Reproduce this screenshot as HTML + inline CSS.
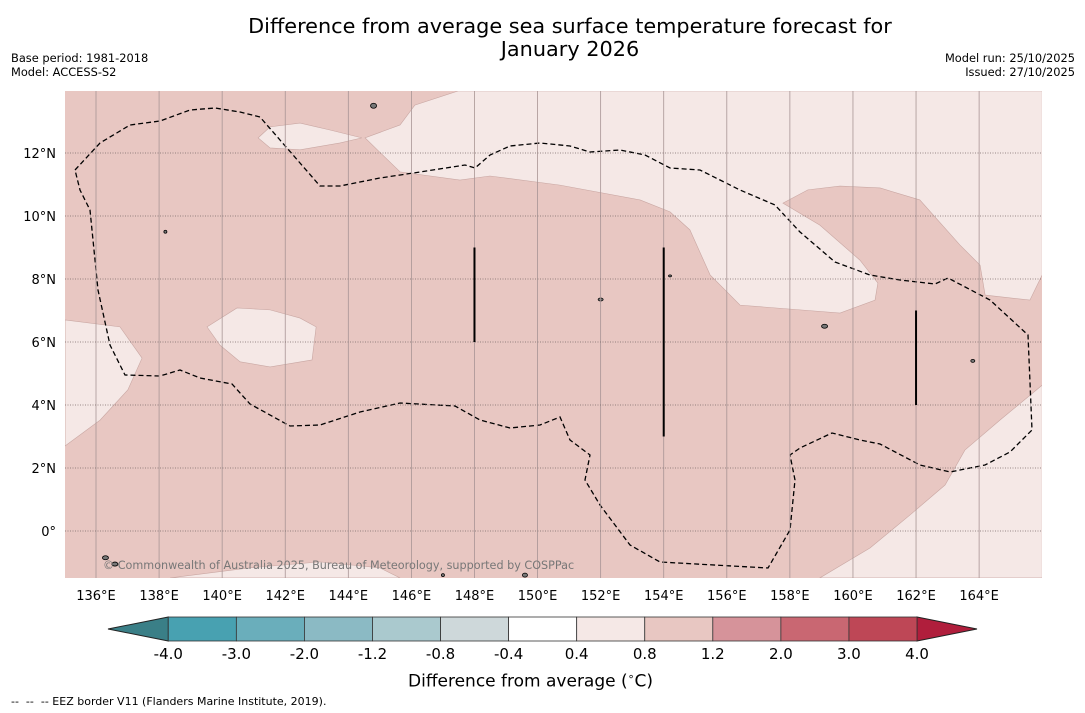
<!DOCTYPE html>
<html><head><meta charset="utf-8"><style>
body{margin:0;background:#fff;font-family:"Liberation Sans","DejaVu Sans",sans-serif;}
#wrap{position:relative;width:1085px;height:713px;overflow:hidden;background:#fff}
.t{position:absolute;white-space:nowrap;color:#000}
</style></head><body>
<div id="wrap">
<div class="t" style="left:0;width:1140px;top:15px;text-align:center;font-size:20.8px;line-height:23px;font-family:'DejaVu Sans',sans-serif">Difference from average sea surface temperature forecast for<br>January 2026</div>
<div class="t" style="left:11px;top:51px;font-size:11.4px;line-height:14px;font-family:'DejaVu Sans',sans-serif">Base period: 1981-2018<br>Model: ACCESS-S2</div>
<div class="t" style="right:10px;top:51px;font-size:11.4px;line-height:14px;text-align:right;font-family:'DejaVu Sans',sans-serif">Model run: 25/10/2025<br>Issued: 27/10/2025</div>
<svg id="map" width="1085" height="713" style="position:absolute;left:0;top:0"></svg>
<div class="t" style="left:103px;top:559px;font-size:11.2px;color:#777;font-family:'DejaVu Sans',sans-serif">© Commonwealth of Australia 2025, Bureau of Meteorology, supported by COSPPac</div>
<div class="t" style="left:408px;top:670px;font-size:17px;font-family:'DejaVu Sans',sans-serif">Difference from average (<sup style="font-size:11px">∘</sup>C)</div>
<div class="t" style="left:11px;top:695px;font-size:11px;font-family:'DejaVu Sans',sans-serif">--&nbsp; --&nbsp; -- EEZ border V11 (Flanders Marine Institute, 2019).</div>
</div>
<script>
const lonTicks=[136,138,140,142,144,146,148,150,152,154,156,158,160,162,164];
const latTicks=[0,2,4,6,8,10,12];
const cbLevels=[-4.0,-3.0,-2.0,-1.2,-0.8,-0.4,0.4,0.8,1.2,2.0,3.0,4.0];
const cbColors=["#48a1b1","#6aaebb","#8bbac4","#aac9ce","#ced8da","#ffffff","#f5e8e6","#e8c7c2","#d6939a","#c96772","#be4756"];
const lightRegions=[
 [[147.48,13.97],[166,13.97],[166,8.13],[165.61,7.33],[164.19,7.49],[164.03,8.44],[163.39,9.08],[162.12,10.51],[160.86,10.89],[159.59,10.95],[158.57,10.83],[157.78,10.41],[158.95,9.71],[160.22,8.6],[160.79,7.87],[160.7,7.33],[159.59,6.92],[158.32,7.02],[156.42,7.17],[155.47,8.13],[154.83,9.56],[154.2,10.13],[153.25,10.51],[150.71,10.98],[148.49,11.27],[147.54,11.14],[145.64,11.4],[144.53,12.48],[145.64,12.89],[146.11,13.52]],
 [[141.14,12.48],[141.52,12.83],[142.47,12.95],[143.42,12.73],[144.43,12.48],[143.74,12.32],[142.47,12.1],[141.52,12.16]],
 [[139.52,6.48],[140.47,7.08],[141.52,7.02],[142.47,6.76],[142.98,6.48],[142.85,5.43],[141.52,5.21],[140.57,5.37],[139.93,5.9]],
 [[135.02,6.7],[136.76,6.48],[137.46,5.49],[137.01,4.48],[136.13,3.52],[135.02,2.7]],
 [[158.95,-1.49],[160.54,-0.54],[161.81,0.51],[162.92,1.46],[163.55,2.57],[164.66,3.52],[166,4.63],[166,-1.49]],
 [[138.35,-1.49],[140.88,-1.17],[143.1,-0.98],[145.0,-1.17],[145.64,-1.49]]
];
const eezPx=[[75,170],[100,143],[130,125],[160,121],[190,110],[215,108],[240,112],[260,117],[280,140],[320,186],[340,186],[380,178],[420,172],[465,165],[475,168],[490,155],[510,146],[540,143],[570,146],[590,152],[620,150],[645,155],[670,168],[700,170],[740,190],[775,205],[800,232],[835,262],[870,275],[900,280],[935,284],[948,278],[990,300],[1028,335],[1032,430],[1010,452],[985,465],[950,472],[920,465],[880,444],[860,440],[832,433],[800,448],[790,455],[795,480],[790,530],[768,568],[660,562],[630,545],[600,505],[585,480],[590,455],[570,440],[560,417],[540,425],[510,428],[480,420],[455,406],[400,403],[360,412],[320,425],[290,426],[250,404],[232,384],[200,378],[180,370],[160,376],[125,375],[110,345],[98,290],[90,210],[80,190],[75,170]];
const bars=[[148,6,9],[154,3,9],[162,4,7]];
const islands=[[144.8,13.5,3,2.5],[136.3,-0.85,3,2],[136.6,-1.05,3,2],[138.2,9.5,1.5,1.5],[152.0,7.35,2.5,1.5],[159.1,6.5,3,2],[163.8,5.4,2,1.5],[149.6,-1.4,2.5,2],[154.2,8.1,1.5,1],[147.0,-1.4,1.5,1.5]];
const NS="http://www.w3.org/2000/svg";
const svg=document.getElementById('map');
const L=65,R=1042,T=91,B=578;
const x=lon=>96+(lon-136)*31.54;
const y=lat=>531-lat*31.5;
function mk(tag,attrs,parent){const e=document.createElementNS(NS,tag);for(const k in attrs)e.setAttribute(k,attrs[k]);(parent||svg).appendChild(e);return e;}
let e=mk('rect',{x:L,y:T,width:R-L,height:B-T,fill:'#e8c7c2'});


const clip=mk('clipPath',{id:'c'});mk('rect',{x:L,y:T,width:R-L,height:B-T},clip);
const g=mk('g',{'clip-path':'url(#c)'});
lightRegions.forEach((poly,i)=>{
 const p=mk('polygon',{points:poly.map(q=>x(q[0])+','+y(q[1])).join(' '),fill:'#f5e8e6',stroke:'#c9a7a3','stroke-width':0.6},g);
 
 
});
lonTicks.forEach(v=>{
 const l=mk('line',{x1:x(v),x2:x(v),y1:T,y2:B,stroke:'#a89595','stroke-width':0.8});
 
 
 const t=mk('text',{x:x(v),y:600,'font-size':13,'text-anchor':'middle','font-family':'DejaVu Sans,sans-serif'});
 t.textContent=v+'°E';
 
 
});
latTicks.forEach(v=>{
 const l=mk('line',{x1:L,x2:R,y1:y(v),y2:y(v),stroke:'#7a6a6a','stroke-width':0.7,'stroke-dasharray':'1,1.5'});
 
 
 const t=mk('text',{x:56,y:y(v)+5,'font-size':13,'text-anchor':'end','font-family':'DejaVu Sans,sans-serif'});
 t.textContent=v===0?'0°':v+'°N';
 
 
});
e=mk('polyline',{points:eezPx.map(q=>q.join(',')).join(' '),fill:'none',stroke:'#000','stroke-width':1.3,'stroke-dasharray':'5,3'},g);


bars.forEach(b=>{
 const l=mk('line',{x1:x(b[0]),x2:x(b[0]),y1:y(b[2]),y2:y(b[1]),stroke:'#000','stroke-width':2});
 
 
});
islands.forEach(p=>{
 const c=mk('ellipse',{cx:x(p[0]),cy:y(p[1]),rx:p[2],ry:p[3],fill:'#777',stroke:'#000','stroke-width':0.8},g);
 
 
});
const cbL=168.3,cbR=917,cbT=617,cbB=641,cw=(cbR-cbL)/cbColors.length;
e=mk('polygon',{points:`108,629 ${cbL},${cbT} ${cbL},${cbB}`,fill:'#3a7f87',stroke:'#222','stroke-width':1});


e=mk('polygon',{points:`977,629 ${cbR},${cbT} ${cbR},${cbB}`,fill:'#b01e3c',stroke:'#222','stroke-width':1});


cbColors.forEach((c,i)=>{
 const r=mk('rect',{x:cbL+i*cw,y:cbT,width:cw,height:cbB-cbT,fill:c,stroke:'#333','stroke-width':0.8});
 
 
});
cbLevels.forEach((v,i)=>{
 const t=mk('text',{x:cbL+i*cw,y:659,'font-size':15,'text-anchor':'middle','font-family':'DejaVu Sans,sans-serif'});
 t.textContent=v.toFixed(1);
 
 
});
</script>
</body></html>
